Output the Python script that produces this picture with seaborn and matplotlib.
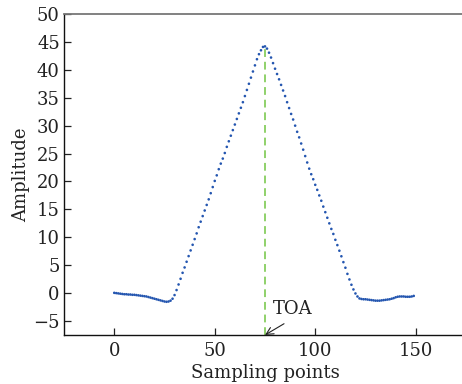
import numpy as np
import pandas as pd
import matplotlib
matplotlib.use("Agg")
import matplotlib.pyplot as plt
import seaborn as sns

# ---- data ----
amp_lead = [0.05, 0.0, -0.05, -0.1, -0.15, -0.2, -0.2, -0.25, -0.25, -0.3,
            -0.3, -0.35, -0.4, -0.45, -0.5, -0.55, -0.6, -0.7, -0.8, -0.9,
            -1.0, -1.1, -1.2, -1.3, -1.4, -1.5, -1.55, -1.5, -1.35, -1.0,
            -0.35, 0.55, 1.55]
amp_rise = [2.57, 3.64, 4.6, 5.62, 6.63, 7.65, 8.66, 9.68, 10.7, 11.8,
            12.8, 13.8, 14.8, 15.8, 16.8, 17.9, 19.0, 20.1, 21.1, 22.2,
            23.2, 24.1, 25.1, 26.2, 27.2, 28.2, 29.2, 30.2, 31.2, 32.2,
            33.2, 34.2, 35.3, 36.4, 37.5, 38.6, 39.7, 40.8, 41.9, 42.8,
            43.5, 44.1, 44.2]
amp_fall = [43.8, 43.07, 42.2, 41.2, 40.2, 39.25, 38.3, 37.3, 36.3, 35.3,
            34.2, 33.15, 32.1, 31.1, 30.0, 28.9, 27.9, 26.8, 25.7, 24.55,
            23.4, 22.3, 21.3, 20.4, 19.4, 18.5, 17.5, 16.55, 15.5, 14.5,
            13.5, 12.5, 11.5, 10.6, 9.55, 8.6, 7.6, 6.6, 5.55, 4.55,
            3.45, 2.45]
amp_tail = [1.5, 0.66, -0.06, -0.6, -0.95, -1.05, -1.1, -1.1, -1.15, -1.2,
            -1.25, -1.3, -1.35, -1.35, -1.35, -1.3, -1.25, -1.2, -1.15, -1.1,
            -1.0, -0.9, -0.75, -0.65, -0.6, -0.6, -0.6, -0.65, -0.65, -0.65,
            -0.6, -0.5]
amplitude = amp_lead + amp_rise + amp_fall + amp_tail
samples = list(range(len(amplitude)))
toa_sample = 75
xticks = [0, 50, 100, 150]
yticks = [-5, 0, 5, 10, 15, 20, 25, 30, 35, 40, 45, 50]

df = pd.DataFrame({"Sampling points": samples, "Amplitude": amplitude})

sns.set_style("ticks")
plt.rcParams["font.family"] = ["DejaVu Serif"]
plt.rcParams["mathtext.fontset"] = "dejavuserif"

fig = plt.figure(figsize=(4.62, 3.84), dpi=100)
ax = fig.add_axes([64 / 462, 49 / 384, 402 / 462, 321 / 384])

peak = amplitude[toa_sample]
ax.vlines(toa_sample, -7.5, peak, colors="#8fd16a", linestyles=(0, (4, 2.5)),
          linewidth=1.4, zorder=2)

sns.scatterplot(data=df, x="Sampling points", y="Amplitude", ax=ax,
                s=3.5, marker="o", color="#2456b0", edgecolor="none",
                linewidth=0, zorder=3)

ax.set_xlim(-25, 175)
ax.set_ylim(-7.5, 50)
ax.set_xticks(xticks)
ax.set_yticks(yticks)
ax.set_yticklabels(["\u22125" if v < 0 else str(v) for v in yticks])
ax.tick_params(direction="in", length=5, width=0.9, labelsize=13,
               colors="#222222", labelcolor="#222222", pad=5)
ax.tick_params(axis="y", pad=3)

for side in ["left", "bottom"]:
    ax.spines[side].set_color("#111111")
    ax.spines[side].set_linewidth(1.0)
ax.spines["top"].set_color("#777777")
ax.spines["top"].set_linewidth(1.3)
ax.spines["right"].set_visible(False)

ax.set_xlabel("Sampling points", fontsize=13, color="#222222", labelpad=3)
ax.set_ylabel("Amplitude", fontsize=13, color="#222222", labelpad=2)

ax.annotate("TOA", xy=(toa_sample, -7.5), xytext=(89, -2.9),
            ha="center", va="center", fontsize=13, color="#222222",
            arrowprops=dict(arrowstyle="->", color="#222222", lw=0.8,
                            relpos=(0.5, 0.0), shrinkA=3, shrinkB=0))

fig.savefig("out.png", dpi=100)
